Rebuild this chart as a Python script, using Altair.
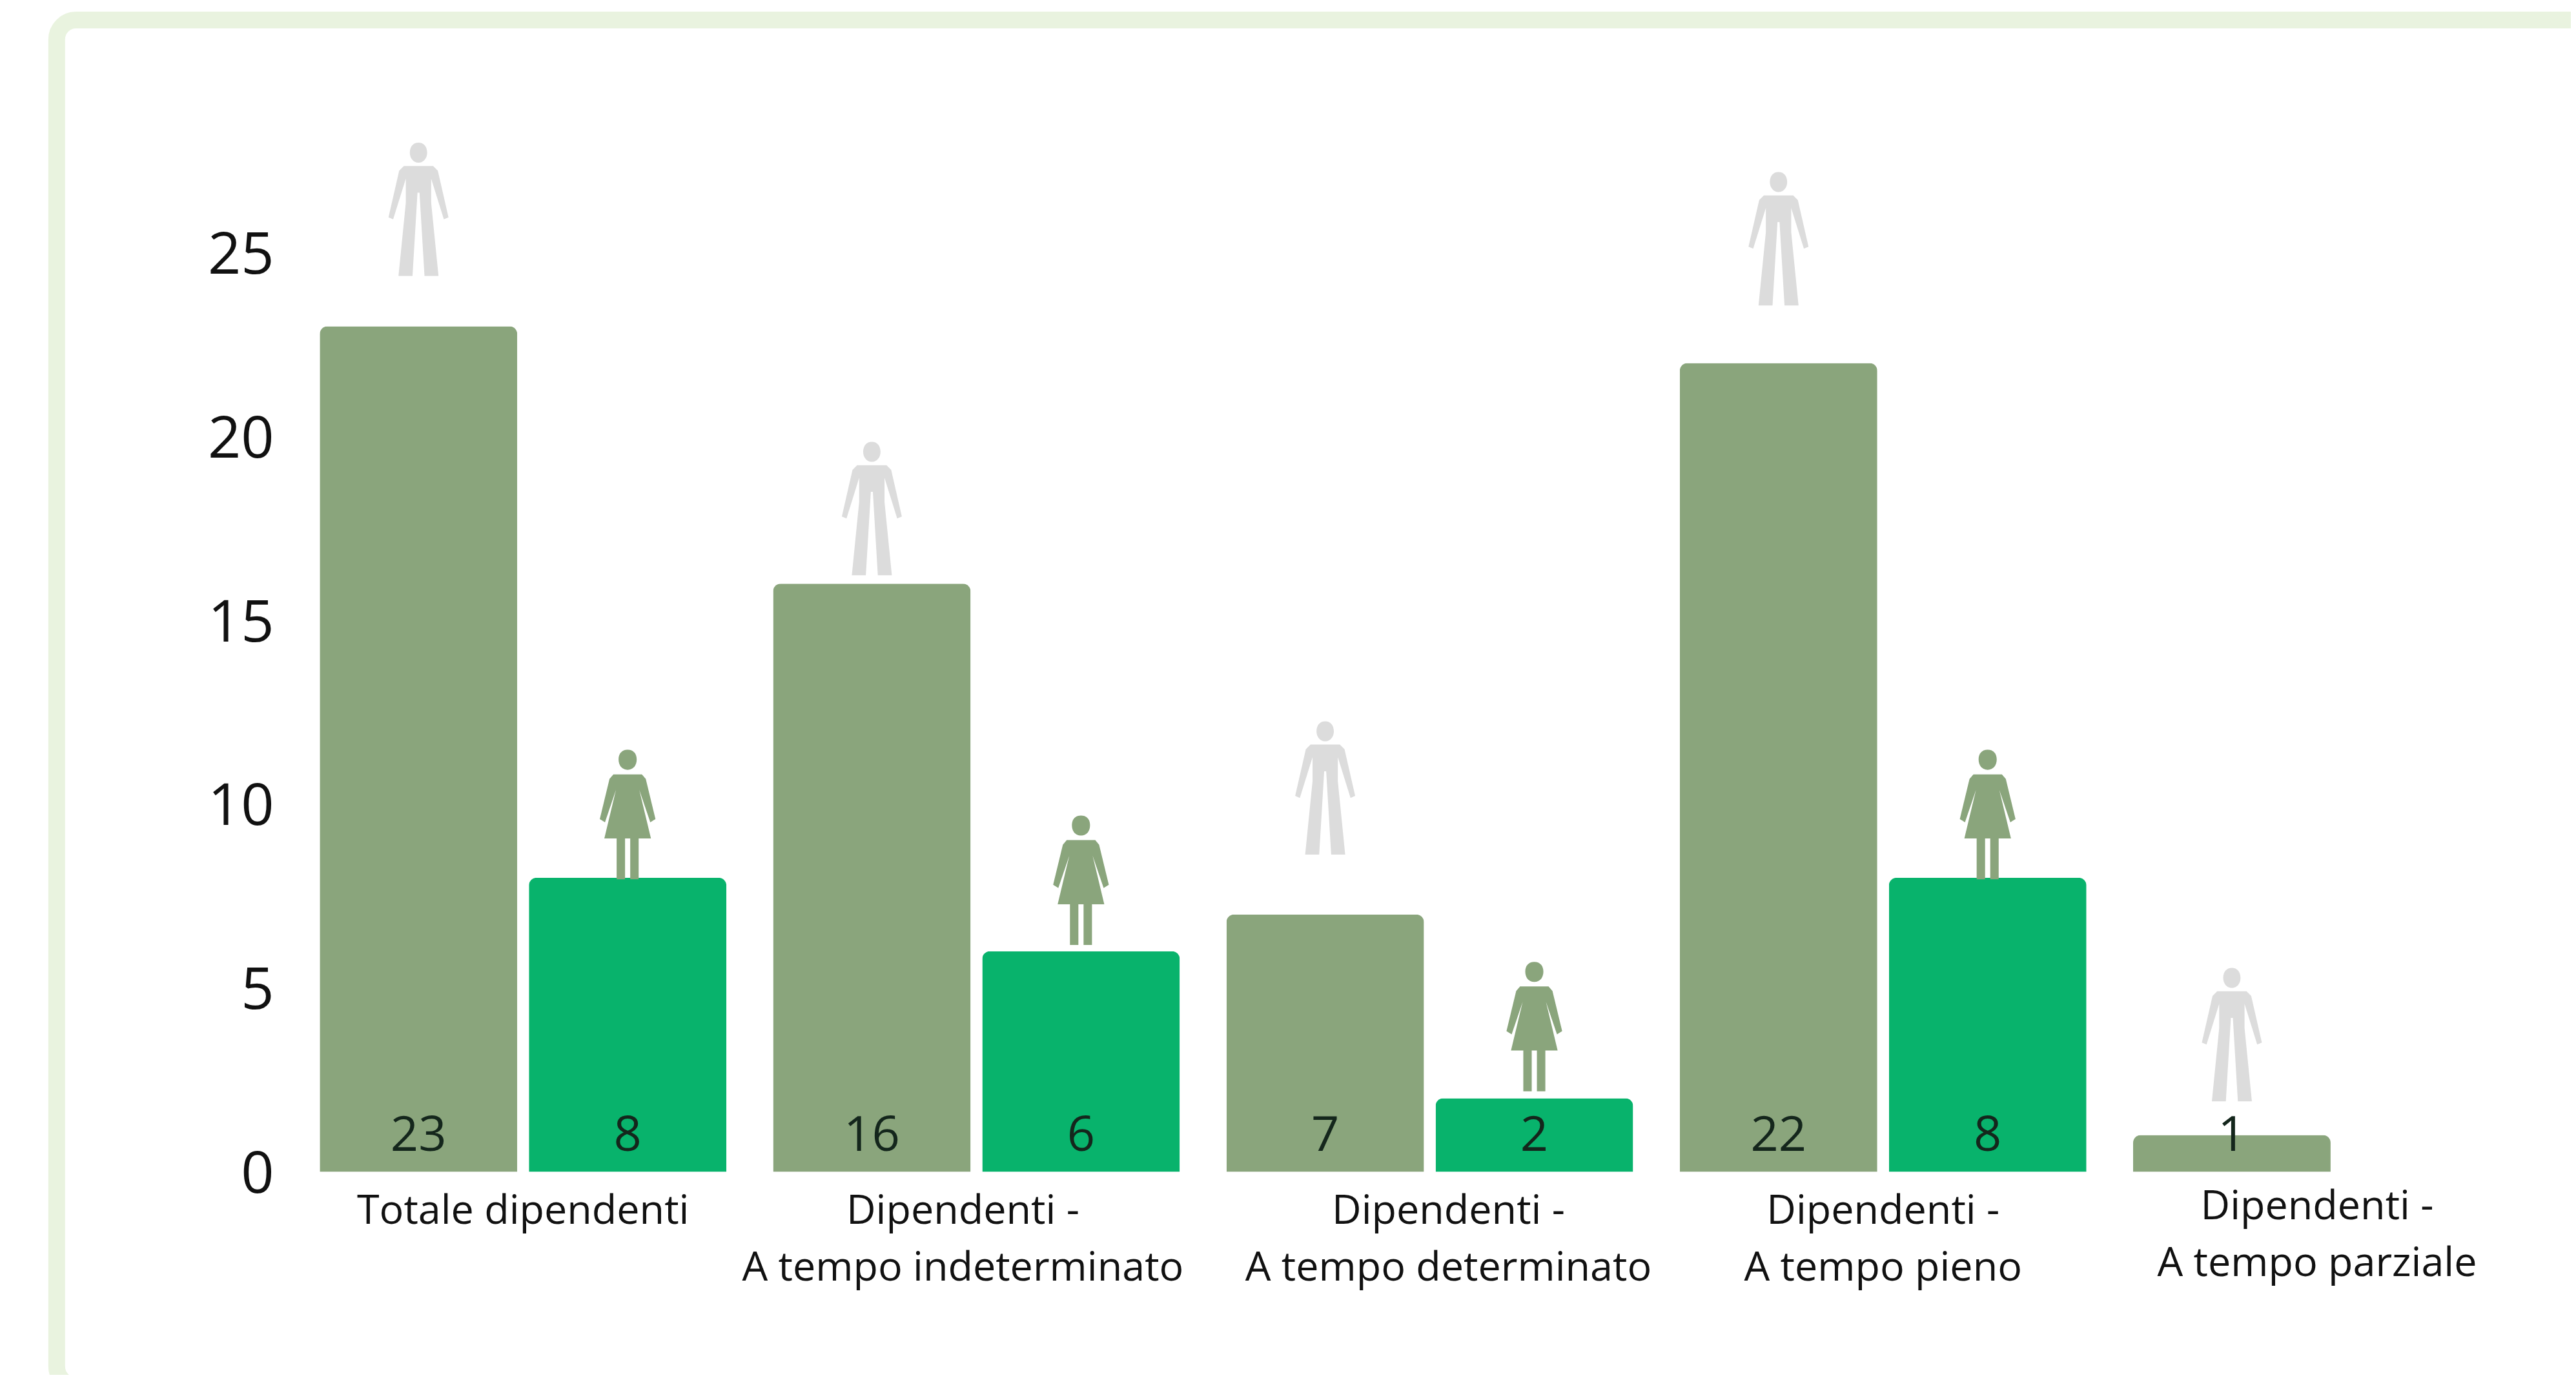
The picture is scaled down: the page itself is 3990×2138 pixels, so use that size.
import altair as alt
import pandas as pd

categories = [
    "Totale dipendenti",
    "Dipendenti -\nA tempo indeterminato",
    "Dipendenti -\nA tempo determinato",
    "Dipendenti -\nA tempo pieno",
    "Dipendenti -\nA tempo parziale",
]
uomini = [23, 16, 7, 22, 1]
donne = [8, 6, 2, 8]
# height on the value scale where each figure's feet stand
piedi_uomini = [24.37, 16.23, 8.63, 23.57, 1.92]
piedi_donne = [7.96, 6.17, 2.19, 7.96]

men = pd.DataFrame({"cat": categories, "sex": "U", "value": uomini, "feet": piedi_uomini})
women = pd.DataFrame({"cat": categories[:4], "sex": "D", "value": donne, "feet": piedi_donne})
df = pd.concat([men, women], ignore_index=True)

OLIVE = "#8aa57c"
GREEN = "#08b36c"
GREY = "#dcdcdc"
FONT = "Open Sans"

MAN = (
    "M0 -2 C0.08 -2 0.13 -1.94 0.13 -1.85 C0.13 -1.77 0.08 -1.70 0 -1.70 C-0.08 -1.70 -0.13 -1.77 -0.13 -1.85 "
    "C-0.13 -1.94 -0.08 -2 0 -2 Z "
    "M-0.22 -1.65 L0.22 -1.65 L0.29 -1.58 L0.45 -0.88 L0.38 -0.85 L0.19 -1.46 L0.19 -1.10 L0.30 0 "
    "L0.09 0 L0.015 -1.25 L-0.015 -1.25 L-0.09 0 L-0.30 0 L-0.19 -1.10 L-0.19 -1.46 L-0.38 -0.85 L-0.45 -0.88 L-0.29 -1.58 Z"
)
WOMAN = (
    "M0 -2 C0.09 -2 0.14 -1.94 0.14 -1.85 C0.14 -1.76 0.09 -1.69 0 -1.69 C-0.09 -1.69 -0.14 -1.76 -0.14 -1.85 "
    "C-0.14 -1.94 -0.09 -2 0 -2 Z "
    "M-0.22 -1.62 L0.22 -1.62 L0.28 -1.55 L0.43 -0.93 L0.35 -0.88 L0.18 -1.38 L0.36 -0.63 L0.17 -0.63 L0.17 0 "
    "L0.04 0 L0.04 -0.63 L-0.04 -0.63 L-0.04 0 L-0.17 0 L-0.17 -0.63 L-0.36 -0.63 L-0.18 -1.38 L-0.35 -0.88 L-0.43 -0.93 L-0.28 -1.55 Z"
)

label_offset = (
    "indexof(datum.value,'indeterminato')>=0 ? -21 : "
    "indexof(datum.value,'A tempo determinato')>=0 ? 29 : "
    "indexof(datum.value,'parziale')>=0 ? -30 : 0"
)

x = alt.X(
    "cat:N",
    sort=categories,
    title=None,
    scale=alt.Scale(paddingInner=0.103, paddingOuter=0.0515),
    axis=alt.Axis(
        labelAngle=0,
        domain=False,
        ticks=False,
        grid=False,
        labelFont=FONT,
        labelFontSize=63,
        labelColor="#111111",
        labelLineHeight=88,
        labelBaseline="top",
        labelPadding=alt.expr("indexof(datum.value,'parziale')>=0 ? 23 : 30"),
        labelOffset=alt.expr(label_offset),
        labelExpr="split(datum.label,'\\n')",
        labelLimit=1000,
    ),
)
xo = alt.XOffset(
    "sex:N",
    scale=alt.Scale(domain=["U", "D"], paddingInner=0.0556, paddingOuter=0),
)
yscale = alt.Scale(domain=[0, 30], nice=False)
y = alt.Y(
    "value:Q",
    scale=yscale,
    title=None,
    axis=alt.Axis(
        values=[0, 5, 10, 15, 20, 25],
        format="d",
        domain=False,
        ticks=False,
        grid=False,
        labelFont=FONT,
        labelFontSize=90,
        labelColor="#111111",
        labelPadding=35,
        labelOffset=5,
    ),
)
color = alt.Color(
    "sex:N",
    scale=alt.Scale(domain=["U", "D"], range=[OLIVE, GREEN]),
    legend=None,
)

card = (
    alt.Chart(pd.DataFrame({"c": [0]}))
    .mark_rect(filled=False, stroke="#e9f3df", strokeWidth=26, cornerRadius=30)
    .encode(
        x=alt.value(-372),
        x2=alt.value(3640),
        y=alt.value(-76),
        y2=alt.value(2044),
    )
)

bars = (
    alt.Chart(df)
    .mark_bar(cornerRadiusTopLeft=12, cornerRadiusTopRight=12)
    .encode(x=x, xOffset=xo, y=y, color=color)
)

labels = (
    alt.Chart(df)
    .mark_text(font=FONT, fontSize=76, color="#14261c", baseline="middle", align="center")
    .encode(x=x, xOffset=xo, y=alt.datum(0.98), text="value:Q")
)

man_icons = (
    alt.Chart(df[df.sex == "U"])
    .mark_point(shape=MAN, size=207 * 207, filled=True, fill=GREY, stroke=None, opacity=1)
    .encode(x=x, xOffset=xo, y=alt.Y("feet:Q", scale=yscale))
)
woman_icons = (
    alt.Chart(df[df.sex == "D"])
    .mark_point(shape=WOMAN, size=201 * 201, filled=True, fill=OLIVE, stroke=None, opacity=1)
    .encode(x=x, xOffset=xo, y=alt.Y("feet:Q", scale=yscale))
)

chart = (
    alt.layer(card, bars, labels, man_icons, woman_icons)
    .properties(
        width=3518,
        height=1712,
        padding={"left": 452, "top": 97, "right": 12, "bottom": 313},
        autosize=alt.AutoSizeParams(type="none"),
        background="white",
    )
    .configure_view(stroke=None)
)

chart.save("out.html", embed_options={"renderer": "svg", "actions": False})
